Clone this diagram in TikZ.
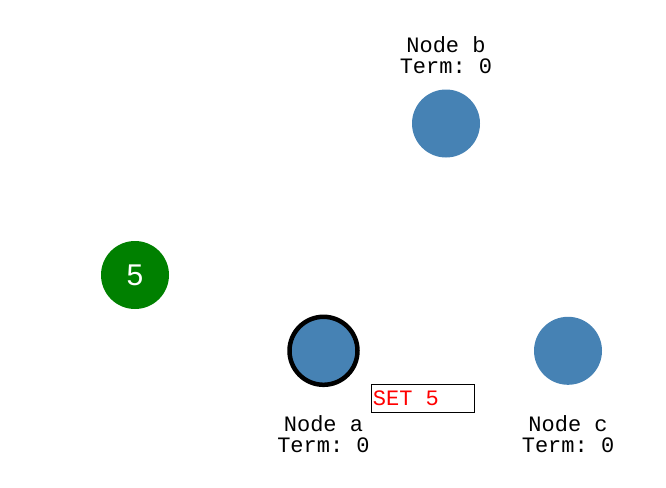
\documentclass[tikz,border=0pt]{standalone}
\usepackage{fontspec}
\setmainfont{Liberation Sans}
\setmonofont{Liberation Mono}
\usepackage{xcolor}
\usepackage{tikz}
\usetikzlibrary{positioning}
\definecolor{raftblue}{HTML}{4682B4}
\definecolor{msggreen}{HTML}{008000}
\newcommand{\monotext}{\ttfamily\fontsize{22}{21}\selectfont}

\begin{document}
\begin{tikzpicture}[x=1pt,y=-1pt,
    server/.style={circle,fill=raftblue,minimum size=68pt,inner sep=0pt},
    leader/.style={server,draw=black,line width=4.5pt},
    msg/.style={circle,fill=msggreen,minimum size=68pt,inner sep=0pt,text=white,
                font=\fontsize{30}{30}\selectfont},
    tag/.style={font=\monotext,align=center,inner sep=0pt},
    cmd/.style={draw=black,line width=0.8pt,text=red,font=\monotext,
                inner xsep=1.5pt,inner ysep=0pt,minimum height=28pt}]
    \useasboundingbox (0,0) rectangle (666,487);
    \node[msg] (m) at (135,275) {5};
    \node[server] (b) at (446,123.5) {};
    \node[leader] (a) at (323.5,350.8) {};
    \node[server] (c) at (568,350.8) {};
    \node[tag, above=49.5pt of b.center] (bl) {Node b\\Term: 0};
    \node[tag, below=65pt of a.center] (al) {Node a\\Term: 0};
    \node[tag, below=65pt of c.center] (cl) {Node c\\Term: 0};
    \node[cmd, anchor=north west] (s) at (371,384.3) {\makebox[100pt][l]{SET 5}};
\end{tikzpicture}
\end{document}
